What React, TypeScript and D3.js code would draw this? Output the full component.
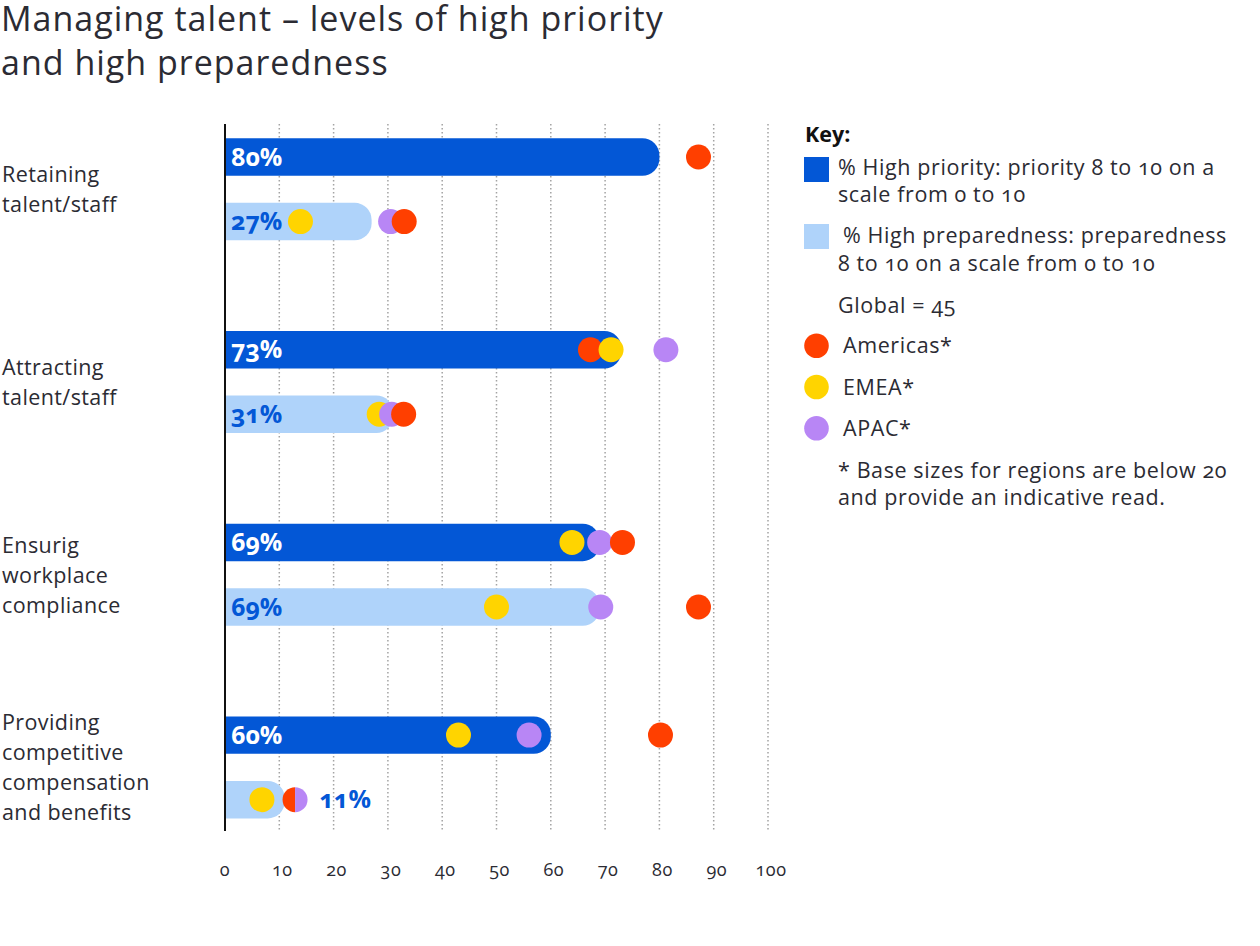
import React from "react";
import * as d3 from "d3";

const categories = [
  "Retaining talent/staff",
  "Attracting talent/staff",
  "Ensurig workplace compliance",
  "Providing competitive compensation and benefits",
];
const categoryLines = [
  ["Retaining", "talent/staff"],
  ["Attracting", "talent/staff"],
  ["Ensurig", "workplace", "compliance"],
  ["Providing", "competitive", "compensation", "and benefits"],
];
const measures = ["priority", "preparedness"];
const highPriority = [80, 73, 69, 60];
const highPreparedness = [27, 31, 69, 11];
const americasPriority = [87.2, 67.3, 73.2, 80.2];
const emeaPriority: (number | null)[] = [null, 71.1, 63.9, 43];
const apacPriority: (number | null)[] = [null, 81.2, 69, 56];
const americasPreparedness = [33, 32.9, 87.2, 12.9];
const emeaPreparedness = [13.9, 28.4, 50, 6.8];
const apacPreparedness = [30.5, 30.7, 69.2, 12.9];
const xTicks = [0, 10, 20, 30, 40, 50, 60, 70, 80, 90, 100];

const regions = ["Americas*", "EMEA*", "APAC*"];

const COLORS = {
  priority: "#0357D6",
  preparedness: "#AFD3FA",
  americas: "#FF3F00",
  emea: "#FFD400",
  apac: "#B886F5",
  text: "#2b2b33",
};
const regionColors = [COLORS.americas, COLORS.emea, COLORS.apac];

const FONT = "'Open Sans', 'Noto Sans', sans-serif";

function barPath(x0: number, x1: number, yTop: number, h: number, r: number) {
  const rr = Math.min(r, x1 - x0, h / 2);
  const p = d3.path();
  p.moveTo(x0, yTop);
  p.lineTo(x1 - rr, yTop);
  p.arcTo(x1, yTop, x1, yTop + rr, rr);
  p.lineTo(x1, yTop + h - rr);
  p.arcTo(x1, yTop + h, x1 - rr, yTop + h, rr);
  p.lineTo(x0, yTop + h);
  p.closePath();
  return p.toString();
}

export default function App() {
  const W = 1260;
  const H = 946;
  const x = d3.scaleLinear().domain([0, 100]).range([225, 768]);
  const yGroup = d3
    .scaleBand<string>()
    .domain(categories)
    .range([124, 124 + 192.7 * 4])
    .padding(0);
  const ySub = d3
    .scaleBand<string>()
    .domain(measures)
    .range([14.3, 116.3])
    .paddingInner(0.42);
  const barH = ySub.bandwidth();
  const dotR = 12.5;
  const axisTop = 124;
  const axisBottom = 831;

  const rows: {
    cat: string;
    i: number;
    measure: string;
    value: number;
    dots: { v: number; c: number }[];
  }[] = [];
  categories.forEach((cat, i) => {
    rows.push({
      cat,
      i,
      measure: "priority",
      value: highPriority[i],
      dots: [
        { v: americasPriority[i], c: 0 },
        { v: emeaPriority[i] as number, c: 1 },
        { v: apacPriority[i] as number, c: 2 },
      ].filter((d) => d.v != null),
    });
    rows.push({
      cat,
      i,
      measure: "preparedness",
      value: highPreparedness[i],
      dots: [
        { v: americasPreparedness[i], c: 0 },
        { v: emeaPreparedness[i], c: 1 },
        { v: apacPreparedness[i], c: 2 },
      ],
    });
  });

  const leftHalf = d3.arc()({
    innerRadius: 0,
    outerRadius: dotR,
    startAngle: Math.PI,
    endAngle: 2 * Math.PI,
  } as any) as string;
  const rightHalf = d3.arc()({
    innerRadius: 0,
    outerRadius: dotR,
    startAngle: 0,
    endAngle: Math.PI,
  } as any) as string;

  return (
    <svg
      width={W}
      height={H}
      style={{ position: "absolute", left: 0, top: 0, background: "#fff" }}
      fontFamily={FONT}
    >
      {/* Title */}
      <g fontSize={34} fill={COLORS.text} letterSpacing={1}>
        <text x={1} y={31}>
          Managing talent – levels of high priority
        </text>
        <text x={1} y={75}>
          and high preparedness
        </text>
      </g>

      {/* Gridlines */}
      {xTicks.slice(1).map((t) => (
        <line
          key={"g" + t}
          x1={x(t)}
          x2={x(t)}
          y1={axisTop}
          y2={axisBottom}
          stroke="#a3a3a3"
          strokeWidth={1.5}
          strokeDasharray="1.5 2.5"
        />
      ))}

      {/* Tick labels */}
      {xTicks.map((t) => (
        <text
          key={"t" + t}
          x={x(t) + (t === 0 ? 0 : 3)}
          y={876}
          fontSize={18}
          textAnchor="middle"
          fill={COLORS.text}
          letterSpacing={0.5}
          style={{ fontVariantNumeric: "oldstyle-nums" }}
        >
          {t}
        </text>
      ))}

      {/* Category labels */}
      {categories.map((cat, i) => {
        const lines = categoryLines[i];
        const lh = 30;
        const center = (yGroup(cat) as number) + 65.2 + 8;
        const first = center - ((lines.length - 1) * lh) / 2;
        return (
          <text
            key={cat}
            x={2}
            fontSize={21.5}
            letterSpacing={0.4}
            fill={COLORS.text}
          >
            {lines.map((l, j) => (
              <tspan key={j} x={2} y={first + j * lh}>
                {l}
              </tspan>
            ))}
          </text>
        );
      })}

      {/* Bars */}
      {rows.map((r) => {
        const yTop = (yGroup(r.cat) as number) + (ySub(r.measure) as number);
        return (
          <path
            key={"b" + r.cat + r.measure}
            d={barPath(x(0), x(r.value), yTop, barH, 17)}
            fill={r.measure === "priority" ? COLORS.priority : COLORS.preparedness}
          />
        );
      })}

      {/* Dots */}
      {rows.map((r) => {
        const cy =
          (yGroup(r.cat) as number) + (ySub(r.measure) as number) + barH / 2;
        const sorted = [...r.dots].sort((a, b) => a.v - b.v);
        const items: React.ReactNode[] = [];
        const used = new Set<number>();
        sorted.forEach((d, k) => {
          if (used.has(k)) return;
          const twinIdx = sorted.findIndex(
            (e, m) => m !== k && !used.has(m) && Math.abs(e.v - d.v) < 0.01
          );
          if (twinIdx >= 0) {
            const pair = [d, sorted[twinIdx]].sort((a, b) => a.c - b.c);
            used.add(k);
            used.add(twinIdx);
            items.push(
              <g key={"p" + k} transform={`translate(${x(d.v)},${cy})`}>
                <path d={leftHalf} fill={regionColors[pair[0].c]} />
                <path d={rightHalf} fill={regionColors[pair[1].c]} />
              </g>
            );
          } else {
            used.add(k);
            items.push(
              <circle
                key={"c" + k}
                cx={x(d.v)}
                cy={cy}
                r={dotR}
                fill={regionColors[d.c]}
              />
            );
          }
        });
        return <g key={"d" + r.cat + r.measure}>{items}</g>;
      })}

      {/* Value labels */}
      {rows.map((r) => {
        const cy =
          (yGroup(r.cat) as number) + (ySub(r.measure) as number) + barH / 2;
        const inside = r.value >= 20;
        const maxV = Math.max(r.value, ...r.dots.map((d) => d.v));
        const lx = inside ? x(0) + 6 : x(maxV) + dotR + 12;
        const fill =
          r.measure === "priority" && inside ? "#ffffff" : COLORS.priority;
        return (
          <text
            key={"l" + r.cat + r.measure}
            x={lx}
            y={cy}
            dy="0.35em"
            fontSize={25}
            fontWeight={700}
            fill={fill}
            style={{ fontVariantNumeric: "oldstyle-nums" }}
          >
            {r.value}%
          </text>
        );
      })}

      {/* Axis */}
      <line
        x1={x(0)}
        x2={x(0)}
        y1={axisTop}
        y2={axisBottom}
        stroke="#111"
        strokeWidth={2}
      />

      {/* Legend */}
      <g
        fill={COLORS.text}
        fontSize={21.5}
        letterSpacing={0.6}
        style={{ fontVariantNumeric: "oldstyle-nums" }}
      >
        <text x={805} y={142} fontWeight={700} fill="#111" letterSpacing={0}>
          Key:
        </text>
        <rect x={804} y={157} width={25} height={25} fill={COLORS.priority} />
        <text x={838} y={175}>% High priority: priority 8 to 10 on a</text>
        <text x={838} y={202}>scale from 0 to 10</text>
        <rect x={804} y={224} width={25} height={25} fill={COLORS.preparedness} />
        <text x={843} y={243}>% High preparedness: preparedness</text>
        <text x={838} y={271}>8 to 10 on a scale from 0 to 10</text>
        <text x={838} y={313}>Global = 45</text>
        {regions.map((rg, k) => (
          <g key={rg}>
            <circle cx={816.5} cy={345.7 + k * 41.3} r={12.3} fill={regionColors[k]} />
            <text x={843} y={353 + k * 41.5}>
              {rg}
            </text>
          </g>
        ))}
        <text x={838} y={478}>* Base sizes for regions are below 20</text>
        <text x={838} y={505}>and provide an indicative read.</text>
      </g>
    </svg>
  );
}
